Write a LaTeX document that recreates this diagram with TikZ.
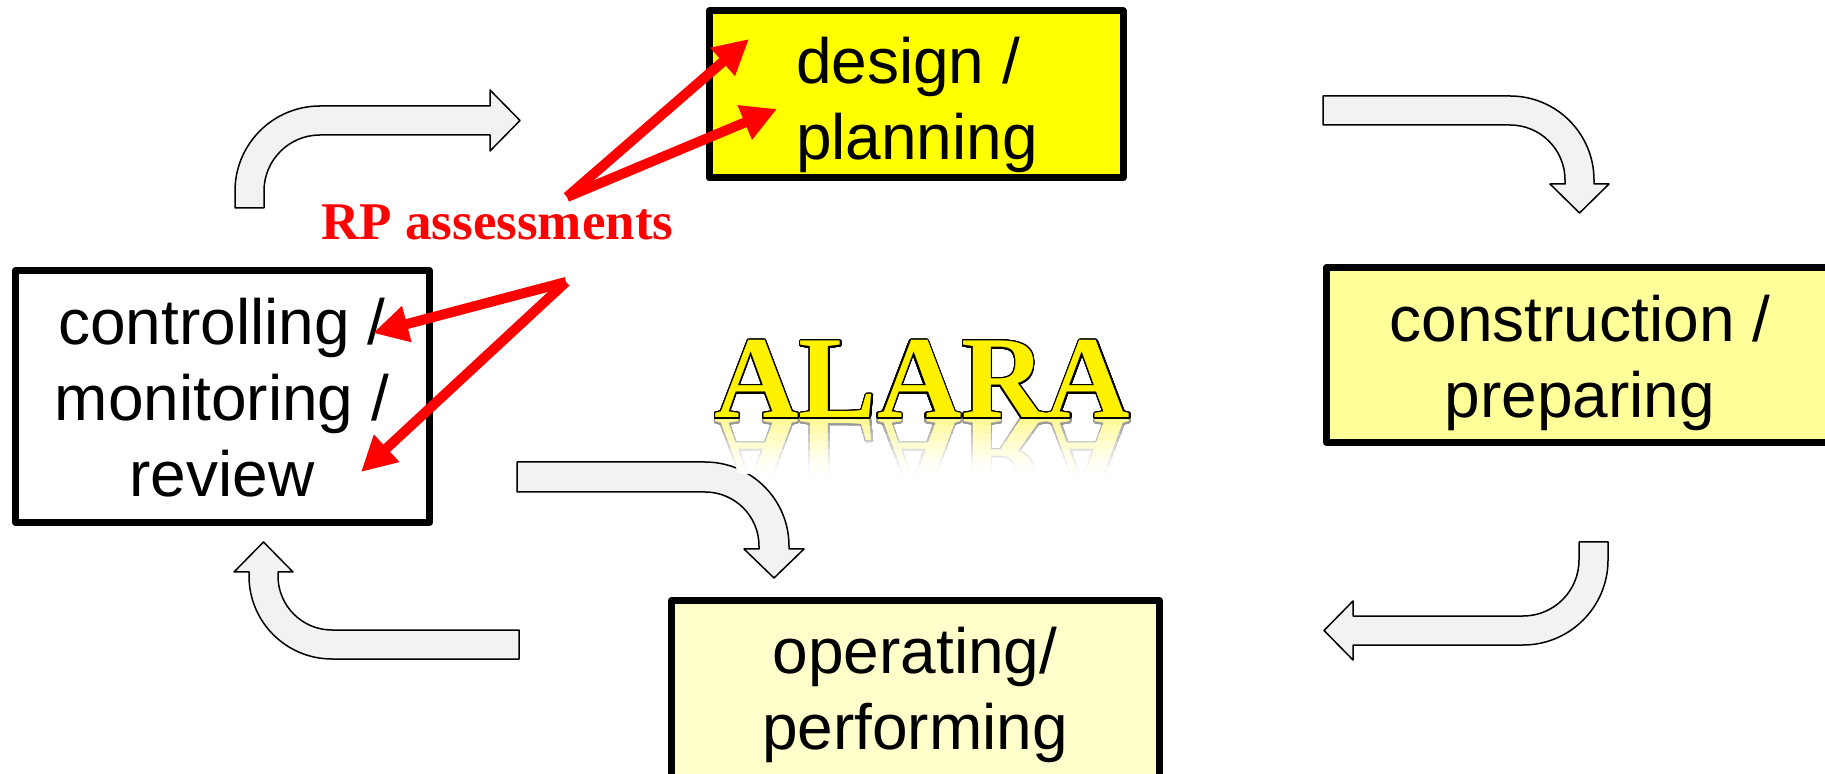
\documentclass[tikz,border=0pt]{standalone}
\usepackage{fontspec}
\setmainfont{Liberation Serif}
\setsansfont{Liberation Sans}
\usepackage{contour}
\usetikzlibrary{arrows.meta}
\contournumber{32}
\contourlength{0.7pt}
\definecolor{arrowgray}{HTML}{F2F2F2}
\definecolor{designyellow}{HTML}{FFFF00}
\definecolor{constyellow}{HTML}{FFFF99}
\definecolor{operyellow}{HTML}{FFFFCC}
\definecolor{rpred}{HTML}{FF0000}
\tikzset{
  boxstyle/.style={draw=black, line width=3.5pt, line join=round, inner sep=0pt},
  boxtext/.style={font=\sffamily\fontsize{32}{38}\selectfont, inner sep=0pt},
  bentarrow/.style={draw=black, fill=arrowgray, line width=0.75pt, line join=round},
  rparrow/.style={draw=rpred, line width=5pt, -{Triangle[length=17.5pt,width=17.5pt]}},
  alarafont/.style={font=\rmfamily\bfseries\fontsize{58.5}{70}\selectfont, inner sep=0pt, anchor=base},
}
\begin{document}
\begin{tikzpicture}[x=0.5pt,y=-0.5pt]
\clip (0,0) rectangle (1825,774);
\fill[white] (0,0) rectangle (1825,774);

% boxes
\node[boxstyle, fill=designyellow, minimum width=207pt, minimum height=83.5pt] (design) at (916,94.5) {};
\node[boxtext, align=left] (designtxt) at (917,105) {design /\\planning};

\node[boxstyle, fill=white, minimum width=207pt, minimum height=126pt] (control) at (222.5,396.5) {};
\node[boxtext, align=center] (controltxt) at (222,397.5) {controlling /\\monitoring /\\review};

\node[boxstyle, fill=constyellow, minimum width=253.5pt, minimum height=87.5pt] (construct) at (1580,355) {};
\node[boxtext, align=center] (constructtxt) at (1580,363) {construction /\\preparing};

\node[boxstyle, fill=operyellow, minimum width=244pt, minimum height=89pt] (operate) at (915.5,689.5) {};
\node[boxtext, align=center] (operatetxt) at (915,694.5) {operating/\\performing};

% bent block arrows
\path[bentarrow] (235,208) -- (235,191) arc[start angle=180, end angle=270, radius=85]
  -- (490,106) -- (490,90) -- (520,120.5) -- (490,151) -- (490,135) -- (320,135)
  arc[start angle=270, end angle=180, radius=56] -- (264,208) -- cycle;

\path[bentarrow] (1323,96) -- (1510,96) arc[start angle=270, end angle=360, radius=84]
  -- (1594,184) -- (1609,184) -- (1579.5,213) -- (1550,184) -- (1565,184) -- (1565,180)
  arc[start angle=360, end angle=270, radius=55] -- (1323,125) -- cycle;

\path[bentarrow] (517,462) -- (705,462) arc[start angle=270, end angle=360, radius=84]
  -- (789,549) -- (804,549) -- (774,578) -- (744,549) -- (759,549) -- (759,546)
  arc[start angle=360, end angle=270, radius=54] -- (517,492) -- cycle;

\path[bentarrow] (1579,542) -- (1608,542) -- (1608,560) arc[start angle=0, end angle=90, radius=85]
  -- (1353,645) -- (1353,660) -- (1324,630.5) -- (1353,601) -- (1353,616) -- (1523,616)
  arc[start angle=90, end angle=0, radius=56] -- cycle;

\path[bentarrow] (519,659) -- (332,659) arc[start angle=90, end angle=180, radius=83]
  -- (249,572) -- (234,572) -- (263.5,542) -- (293,572) -- (278,572) -- (278,576)
  arc[start angle=180, end angle=90, radius=54] -- (519,630) -- cycle;

% ALARA with reflection
\foreach \k/\p in {0/40,1/32,2/25,3/18,4/11,5/6,6/2} {
  \begin{scope}
    \clip (690,{418+8*\k}) rectangle (1160,{426+8*\k});
    \node[alarafont, yscale=-1, text=yellow!\p!white] (refl\k) at (922.5,418) {\contour{black!\p!white}{ALARA}};
  \end{scope}
}
\node[alarafont, text=yellow] (alara) at (922.5,418) {\contour{black}{ALARA}};

% RP assessments
\node[text=rpred, font=\rmfamily\bfseries\fontsize{26.5}{30}\selectfont, anchor=base, inner sep=0pt] (rp) at (497.5,240) {RP assessments};
\coordinate (v1) at (567,197);
\coordinate (v2) at (566,282);
\coordinate (t1) at (749,39);
\coordinate (t2) at (777,109);
\coordinate (t3) at (373,333);
\coordinate (t4) at (361,472);
\draw[rparrow] (v1) -- (t1);
\draw[rparrow] (v1) -- (t2);
\draw[rparrow] (v2) -- (t3);
\draw[rparrow] (v2) -- (t4);
\end{tikzpicture}
\end{document}
